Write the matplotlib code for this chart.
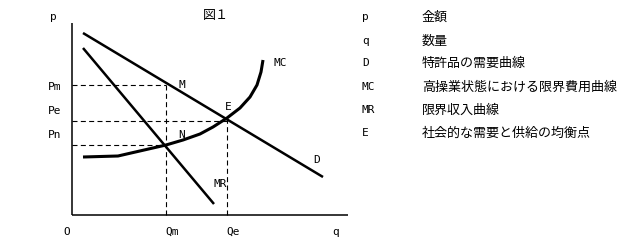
import matplotlib
matplotlib.use("Agg")
import matplotlib.pyplot as plt

# ---- data (chart units: origin at the axes corner) ----
d_q = [11, 251]
d_p = [182, 38]
mr_q = [11, 142]
mr_p = [167, 11]
mc_q = [11, 46, 94, 111, 128, 141, 155, 168, 178, 185, 189, 191]
mc_p = [58, 59, 70, 75, 81, 88, 97, 107, 118, 130, 143, 155]
Qm, Qe = 94, 155
Pm, Pe, Pn = 130, 94, 70
q_max, p_max = 276, 192

legend_keys = ["p", "q", "D", "MC", "MR", "E"]
legend_desc = ["金額", "数量", "特許品の需要曲線", "高操業状態における限界費用曲線",
               "限界収入曲線", "社会的な需要と供給の均衡点"]

fig = plt.figure(figsize=(6.25, 2.42), dpi=100)
ax = fig.add_axes([0, 0, 1, 1])
ax.set_xlim(-72, 553)
ax.set_ylim(-27, 215)
ax.axis("off")

mono = "DejaVu Sans Mono"
cjk = ["Noto Sans CJK JP", "DejaVu Sans"]
fs_l = 8
fs_j = 9.4

# axes
ax.plot([0, 0], [0, p_max], color="black", lw=1.1, solid_capstyle="butt")
ax.plot([0, q_max], [0, 0], color="black", lw=1.1, solid_capstyle="butt")

# dashed guides
dash = dict(color="black", lw=0.8, dashes=(4.5, 3))
ax.plot([0, Qm], [Pm, Pm], **dash)
ax.plot([0, Qe], [Pe, Pe], **dash)
ax.plot([0, Qm], [Pn, Pn], **dash)
ax.plot([Qm, Qm], [0, Pm], **dash)
ax.plot([Qe, Qe], [0, Pe + 3], **dash)

# curves
ax.plot(d_q, d_p, color="black", lw=1.8, solid_capstyle="butt")
ax.plot(mr_q, mr_p, color="black", lw=1.8, solid_capstyle="butt")
ax.plot(mc_q, mc_p, color="black", lw=2.2, solid_capstyle="butt", solid_joinstyle="round")

# labels
def t(x, y, s, **kw):
    kw.setdefault("family", mono)
    kw.setdefault("fontsize", fs_l)
    ax.text(x, y, s, ha="center", va="center", **kw)

t(-19, 198, "p")
t(144, 200, "図１", family=cjk, fontsize=fs_j)
t(208, 152, "MC")
t(110, 130, "M")
t(156, 108, "E")
t(110, 80, "N")
t(245, 55, "D")
t(148, 31, "MR")
t(-17, 128, "Pm")
t(-17, 104, "Pe")
t(-17, 80, "Pn")
t(-5, -17, "O")
t(Qm + 6, -17, "Qm")
t(Qe + 6, -17, "Qe")
t(264, -17, "q")

# legend text
rows_y = [198, 174, 152, 128, 105, 82]
for k, d, y in zip(legend_keys, legend_desc, rows_y):
    ax.text(290, y, k, ha="left", va="center", family=mono, fontsize=fs_l)
    ax.text(350, y, d, ha="left", va="center", family=cjk, fontsize=fs_j)

fig.savefig("out.png", dpi=100)
